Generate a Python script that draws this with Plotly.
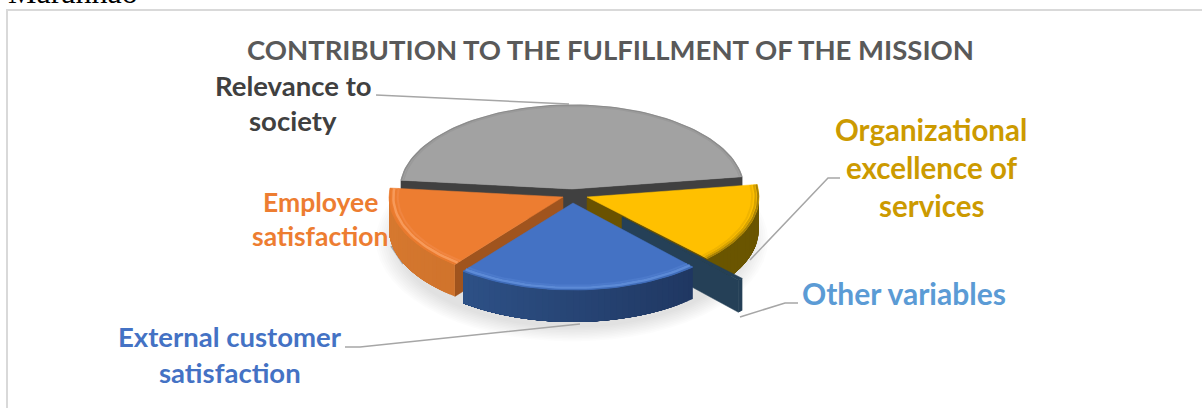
import math
import plotly.graph_objects as go

# Pie data, listed clockwise from the first slice
categories = ["Relevance to society", "Organizational excellence of services",
              "Other variables", "External customer satisfaction", "Employee satisfaction"]
values = [46, 15, 0.5, 22.5, 16]

# Drawing setup for the tilted pie, in pixel coordinates
WIDTH, HEIGHT = 1202, 408
FIRST_ANGLE = 276
DEPTH = 32
radius_x = {
    "Relevance to society": 172,
    "Organizational excellence of services": 172,
    "Other variables": 172,
    "External customer satisfaction": 177,
    "Employee satisfaction": 174,
}
radius_y = {
    "Relevance to society": 84,
    "Organizational excellence of services": 86,
    "Other variables": 86,
    "External customer satisfaction": 87,
    "Employee satisfaction": 86,
}
apex = {
    "Relevance to society": (572, 189),
    "Organizational excellence of services": (587, 197),
    "Other variables": (622, 217),
    "External customer satisfaction": (573, 203),
    "Employee satisfaction": (563, 197),
}
top_colour = {
    "Relevance to society": "#a2a2a2",
    "Organizational excellence of services": "#ffc000",
    "Other variables": "#254057",
    "External customer satisfaction": "#4472c4",
    "Employee satisfaction": "#ed7d31",
}
cut_colour = {
    "Relevance to society": "#404040",
    "Organizational excellence of services": "#6a5200",
    "Other variables": "#254057",
    "External customer satisfaction": "#264478",
    "Employee satisfaction": "#a0541e",
}
wall_gradient = {
    "Relevance to society": ("#636363", "#636363"),
    "Organizational excellence of services": ("#6a5500", "#6a5500"),
    "Other variables": ("#254057", "#254057"),
    "External customer satisfaction": ("#37629f", "#17284c"),
    "Employee satisfaction": ("#d87a30", "#bd6322"),
}
# Bevel strokes just inside the rim: (radius factor, colour, width)
bevel = {
    "Relevance to society": [(0.998, "#8c8c8c", 1.5), (0.985, "#9a9a9a", 1.5)],
    "Organizational excellence of services": [(0.995, "#a88208", 2), (0.98, "#d6a200", 2), (0.96, "#f0b400", 2)],
    "Other variables": [],
    "External customer satisfaction": [(0.995, "#3f6cb8", 1.5), (0.975, "#5c8ad6", 2.5), (0.95, "#4c7acb", 2)],
    "Employee satisfaction": [(0.995, "#e87a2e", 1.5), (0.975, "#f79a5a", 2.5), (0.95, "#f08540", 2)],
}
# Drawn back to front
draw_order = ["Relevance to society", "Organizational excellence of services",
              "Employee satisfaction", "Other variables", "External customer satisfaction"]

label_lines = [
    ("Relevance to", 293, 85.5, 27.5, "#404040"),
    ("society", 293, 120.5, 27.5, "#404040"),
    ("Organizational", 931, 129.5, 29.5, "#cc9a00"),
    ("excellence of", 931, 167.5, 29.5, "#cc9a00"),
    ("services", 931, 205.5, 29.5, "#cc9a00"),
    ("Employee", 320, 201.5, 26.5, "#ed7d31"),
    ("satisfaction", 320, 235.5, 26.5, "#ed7d31"),
    ("Other variables", 904, 292.5, 30, "#5b9bd5"),
    ("External customer", 230, 336.5, 27.5, "#4472c4"),
    ("satisfaction", 230, 372.5, 27.5, "#4472c4"),
]
leaders = [
    [(376, 95), (569, 104)],
    [(840, 178), (828, 178), (750, 260)],
    [(798, 303), (785, 303), (740, 317)],
    [(345, 347), (360, 347), (580, 324)],
    [(391, 246), (403, 264)],
]


def mix(c1, c2, f):
    a = [int(c1[i:i + 2], 16) for i in (1, 3, 5)]
    b = [int(c2[i:i + 2], 16) for i in (1, 3, 5)]
    return "#" + "".join(f"{round(p + (q - p) * f):02x}" for p, q in zip(a, b))


def rim(name, t, scale=1.0):
    cx, cy = apex[name]
    r = math.radians(t)
    return cx + radius_x[name] * scale * math.sin(r), cy - radius_y[name] * scale * math.cos(r)


fig = go.Figure()


def polygon(xs, ys, colour):
    fig.add_trace(go.Scatter(
        x=list(xs) + [xs[0]], y=list(ys) + [ys[0]], mode="lines", fill="toself",
        fillcolor=colour, line=dict(color=colour, width=0.5),
        hoverinfo="skip", showlegend=False))


def stroke(points, colour, width):
    fig.add_trace(go.Scatter(
        x=[p[0] for p in points], y=[p[1] for p in points], mode="lines",
        line=dict(color=colour, width=width), hoverinfo="skip", showlegend=False))


# Soft ground shadow below the pie
for i in range(10):
    grow = 22 - 2.2 * i
    pts = [(572 + (174 + grow) * math.sin(math.radians(a)),
            240 + (86 + grow * 0.7) * math.cos(math.radians(a))) for a in range(0, 361, 6)]
    fig.add_trace(go.Scatter(
        x=[p[0] for p in pts], y=[p[1] for p in pts], mode="lines", fill="toself",
        fillcolor="rgba(120,120,120,0.025)", line=dict(width=0),
        hoverinfo="skip", showlegend=False))

# Leader lines sit beneath the slices
for seg in leaders:
    stroke(seg, "#a6a6a6", 1.5)

# Angular extent of each slice, from its value
total = sum(values)
spans = {}
angle = FIRST_ANGLE
for name, value in zip(categories, values):
    spans[name] = (angle, angle + 360 * value / total)
    angle += 360 * value / total

for name in draw_order:
    t0, t1 = spans[name]
    cx, cy = apex[name]

    # Radial cut faces that turn towards the viewer
    for t, sign in ((t0, -1), (t1, 1)):
        if sign * math.sin(math.radians(t)) > 0:
            ex, ey = rim(name, t)
            polygon([cx, ex, ex, cx], [cy, ey, ey + DEPTH, cy + DEPTH], cut_colour[name])

    # Outer wall, front-facing part only; each strip overlaps the next so no seams show
    left_col, right_col = wall_gradient[name]
    for base in (0, 360):
        a0, a1 = max(t0, 90 + base), min(t1, 270 + base)
        if a1 <= a0:
            continue
        n = max(2, int((a1 - a0) / 2))
        step = (a1 - a0) / n
        for i in range(n):
            u0 = a0 + step * i
            u1 = a1
            arc = [rim(name, u0 + (u1 - u0) * k / 12) for k in range(13)]
            shade = mix(left_col, right_col, 1 - (u0 - 90 - base) / 180)
            xs = [p[0] for p in arc] + [p[0] for p in reversed(arc)]
            ys = [p[1] for p in arc] + [p[1] + DEPTH for p in reversed(arc)]
            fig.add_trace(go.Scatter(
                x=xs + [xs[0]], y=ys + [ys[0]], mode="lines", fill="toself",
                fillcolor=shade, line=dict(width=0),
                hoverinfo="skip", showlegend=False))

    # Top surface
    steps = max(2, int((t1 - t0) / 2))
    arc = [rim(name, t0 + (t1 - t0) * i / steps) for i in range(steps + 1)]
    polygon([cx] + [p[0] for p in arc], [cy] + [p[1] for p in arc], top_colour[name])

    # Bevel along the rim
    for scale, colour, width in bevel[name]:
        stroke([rim(name, t0 + (t1 - t0) * i / steps, scale) for i in range(steps + 1)], colour, width)

annotations = [
    dict(x=610, y=49, text="<b>CONTRIBUTION TO THE FULFILLMENT OF THE MISSION</b>",
         showarrow=False, font=dict(family="Lato", size=27.5, color="#595959")),
    dict(x=7, y=11, text="Maranhão", xanchor="left", yanchor="bottom", showarrow=False,
         font=dict(family="Liberation Serif", size=32, color="#000000"), borderpad=0),
]
for text, x, y, size, colour in label_lines:
    annotations.append(dict(x=x, y=y, text=f"<b>{text}</b>", showarrow=False,
                            font=dict(family="Lato", size=size, color=colour)))

fig.update_layout(
    width=WIDTH, height=HEIGHT, margin=dict(l=0, r=0, t=0, b=0),
    paper_bgcolor="#ffffff", plot_bgcolor="#ffffff", showlegend=False,
    xaxis=dict(range=[0, WIDTH], visible=False, fixedrange=True),
    yaxis=dict(range=[HEIGHT, 0], visible=False, fixedrange=True),
    annotations=annotations,
    shapes=[dict(type="rect", xref="x", yref="y", x0=7, y0=10, x1=WIDTH + 10, y1=HEIGHT + 10,
                 line=dict(color="#d9d9d9", width=2), layer="below")],
)
fig.write_html("out.html", config={"displayModeBar": False})
